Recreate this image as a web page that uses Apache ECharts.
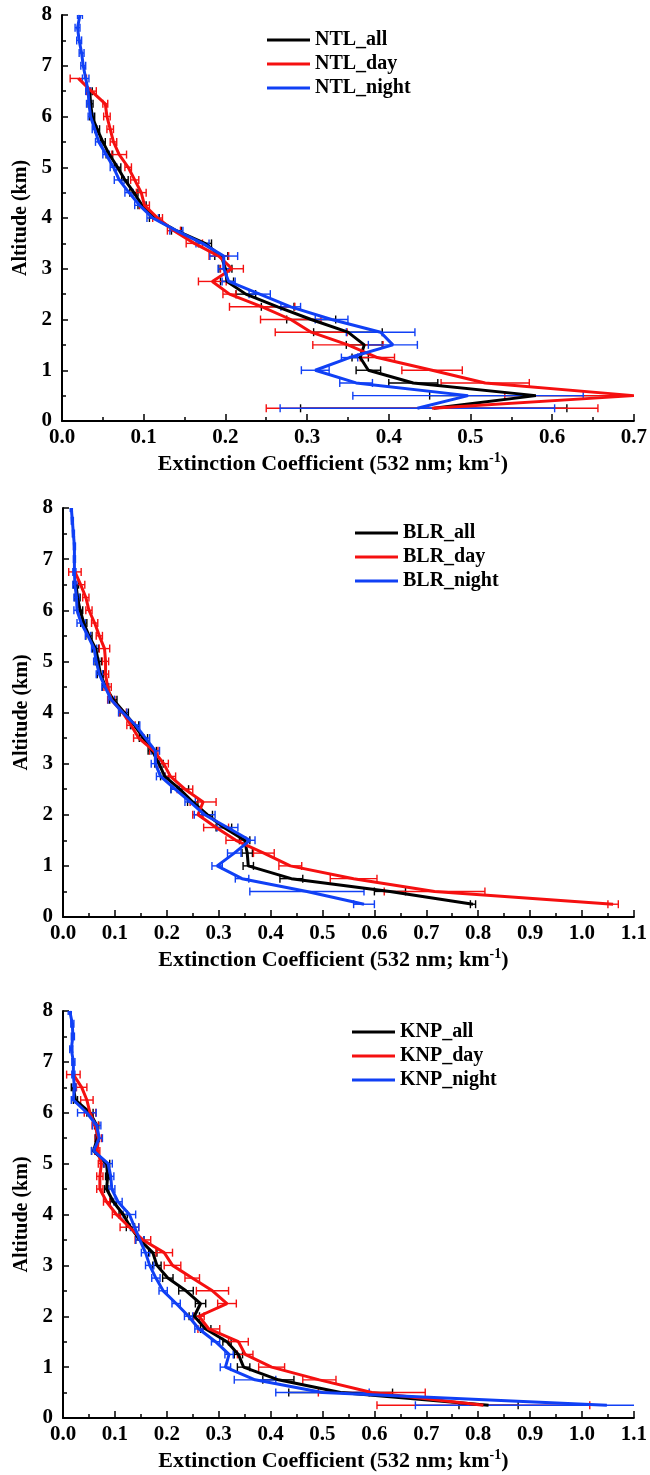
<!DOCTYPE html>
<html>
<head>
<meta charset="utf-8">
<script src="https://cdn.jsdelivr.net/npm/echarts@6/dist/echarts.min.js"></script>
<style>
  html, body { margin: 0; padding: 0; background: #fff; }
  #chart { width: 650px; height: 1475px; }
</style>
</head>
<body>
<div id="chart"></div>
<script>
// Altitude levels (km)
const ALT = [0.25,0.5,0.75,1.0,1.25,1.5,1.75,2.0,2.25,2.5,2.75,3.0,3.25,3.5,3.75,4.0,4.25,4.5,4.75,5.0,5.25,5.5,5.75,6.0,6.25,6.5,6.75,7.0,7.25,7.5,7.75,8.0];

// Panel 1: NTL
const NTL_all   = [0.455,0.58,0.43,0.375,0.365,0.37,0.35,0.305,0.264,0.225,0.202,0.2,0.195,0.175,0.14,0.113,0.098,0.088,0.077,0.068,0.058,0.05,0.043,0.037,0.035,0.034];
const NTL_all_e = [0.163,0.13,0.03,0.015,0.01,0.022,0.042,0.03,0.02,0.012,0.008,0.008,0.008,0.008,0.006,0.006,0.005,0.005,0.004,0.004,0.004,0.003,0.003,0.003,0.003,0.003];
const NTL_day   = [0.453,0.70,0.518,0.453,0.386,0.35,0.305,0.28,0.245,0.205,0.184,0.208,0.192,0.162,0.137,0.117,0.101,0.097,0.089,0.081,0.07,0.063,0.059,0.055,0.053,0.036,0.02];
const NTL_day_e = [0.203,0.158,0.054,0.037,0.021,0.043,0.044,0.037,0.04,0.008,0.017,0.014,0.012,0.01,0.008,0.006,0.006,0.006,0.005,0.004,0.009,0.004,0.004,0.004,0.003,0.006,0.01];
const NTL_night   = [0.435,0.497,0.36,0.31,0.352,0.405,0.39,0.33,0.28,0.242,0.204,0.198,0.198,0.172,0.14,0.111,0.095,0.082,0.07,0.063,0.054,0.045,0.04,0.035,0.033,0.032,0.029,0.026,0.024,0.021,0.019,0.022];
const NTL_night_e = [0.168,0.141,0.02,0.017,0.01,0.03,0.042,0.02,0.012,0.013,0.008,0.007,0.017,0.008,0.008,0.007,0.006,0.005,0.006,0.004,0.004,0.004,0.003,0.003,0.003,0.003,0.004,0.003,0.003,0.003,0.003,0.003];

// Panel 2: BLR
const BLR_all   = [0.79,0.63,0.44,0.357,0.355,0.35,0.31,0.278,0.25,0.225,0.196,0.185,0.172,0.155,0.138,0.118,0.097,0.082,0.072,0.068,0.063,0.05,0.04,0.033,0.028,0.025];
const BLR_all_e = [0.005,0.03,0.022,0.01,0.01,0.01,0.015,0.01,0.01,0.017,0.008,0.008,0.008,0.008,0.008,0.008,0.007,0.006,0.006,0.006,0.006,0.006,0.006,0.005,0.005,0.005];
const BLR_day   = [1.06,0.716,0.56,0.438,0.387,0.333,0.295,0.26,0.27,0.235,0.207,0.194,0.175,0.146,0.131,0.115,0.093,0.086,0.082,0.082,0.08,0.07,0.061,0.05,0.044,0.034,0.023];
const BLR_day_e = [0.01,0.097,0.045,0.022,0.02,0.019,0.024,0.01,0.025,0.015,0.01,0.009,0.008,0.01,0.008,0.007,0.007,0.007,0.006,0.006,0.01,0.006,0.006,0.006,0.006,0.008,0.012];
const BLR_night   = [0.58,0.47,0.345,0.297,0.33,0.36,0.317,0.273,0.245,0.216,0.188,0.178,0.178,0.159,0.14,0.115,0.093,0.081,0.07,0.064,0.06,0.048,0.035,0.027,0.026,0.023,0.022,0.022,0.022,0.02,0.018,0.016];
const BLR_night_e = [0.02,0.11,0.013,0.01,0.013,0.01,0.02,0.02,0.01,0.008,0.008,0.008,0.008,0.008,0.008,0.008,0.006,0.006,0.006,0.005,0.005,0.005,0.008,0.006,0.005,0.004,0.003,0.002,0.002,0.002,0.002,0.002];

// Panel 3: KNP
const KNP_all   = [0.82,0.535,0.415,0.348,0.338,0.316,0.275,0.253,0.265,0.237,0.202,0.181,0.173,0.148,0.13,0.116,0.097,0.084,0.086,0.084,0.059,0.066,0.065,0.052,0.024,0.02];
const KNP_all_e = [0.057,0.1,0.03,0.012,0.008,0.008,0.01,0.01,0.01,0.014,0.01,0.008,0.008,0.008,0.008,0.008,0.006,0.004,0.004,0.006,0.004,0.004,0.004,0.006,0.004,0.004];
const KNP_day   = [0.81,0.595,0.494,0.402,0.351,0.338,0.281,0.262,0.316,0.288,0.249,0.211,0.195,0.154,0.128,0.103,0.084,0.071,0.071,0.074,0.066,0.068,0.062,0.052,0.046,0.036,0.02];
const KNP_day_e = [0.205,0.103,0.032,0.025,0.015,0.019,0.021,0.01,0.018,0.031,0.014,0.016,0.016,0.015,0.018,0.008,0.006,0.006,0.006,0.006,0.005,0.006,0.006,0.011,0.012,0.01,0.013];
const KNP_night   = [1.048,0.50,0.37,0.313,0.32,0.294,0.262,0.242,0.218,0.193,0.179,0.167,0.159,0.148,0.138,0.128,0.106,0.094,0.092,0.087,0.059,0.07,0.065,0.046,0.02,0.022,0.02,0.02,0.016,0.019,0.018,0.013];
const KNP_night_e = [0.369,0.09,0.04,0.01,0.008,0.008,0.008,0.008,0.008,0.008,0.008,0.008,0.008,0.008,0.008,0.012,0.008,0.006,0.006,0.008,0.004,0.006,0.008,0.018,0.004,0.003,0.003,0.003,0.003,0.003,0.003,0.003];

const X_TICKS_1 = ['0.0','0.1','0.2','0.3','0.4','0.5','0.6','0.7'];
const X_TICKS_2 = ['0.0','0.1','0.2','0.3','0.4','0.5','0.6','0.7','0.8','0.9','1.0','1.1'];
const Y_TICKS = ['0','1','2','3','4','5','6','7','8'];

const PANELS = [
  { site: 'NTL', all: NTL_all, allE: NTL_all_e, day: NTL_day, dayE: NTL_day_e, night: NTL_night, nightE: NTL_night_e, xmax: 0.7,
    grid: { left: 62, top: 15, width: 576, height: 406 }, legend: { left: 267, top: 30 } },
  { site: 'BLR', all: BLR_all, allE: BLR_all_e, day: BLR_day, dayE: BLR_day_e, night: BLR_night, nightE: BLR_night_e, xmax: 1.1,
    grid: { left: 63, top: 508, width: 579, height: 409 }, legend: { left: 355, top: 523 } },
  { site: 'KNP', all: KNP_all, allE: KNP_all_e, day: KNP_day, dayE: KNP_day_e, night: KNP_night, nightE: KNP_night_e, xmax: 1.1,
    grid: { left: 63, top: 1011, width: 576, height: 407 }, legend: { left: 352, top: 1022 } }
];

const FONT = "'Liberation Serif', 'DejaVu Serif', serif";
const COLORS = { all: '#000000', day: '#f51010', night: '#1040f5' };

function lineData(vals) {
  const out = [];
  vals.forEach((v, i) => { if (v != null) out.push([v, ALT[i]]); });
  return out;
}
function errData(vals, errs) {
  const out = [];
  vals.forEach((v, i) => { if (v != null) out.push([v - errs[i], v + errs[i], ALT[i]]); });
  return out;
}
function errSeries(name, idx, vals, errs, color) {
  return {
    type: 'custom', name: name, xAxisIndex: idx, yAxisIndex: idx, clip: true,
    data: errData(vals, errs),
    encode: { x: [0, 1], y: 2 },
    renderItem: function (params, api) {
      const lo = api.coord([api.value(0), api.value(2)]);
      const hi = api.coord([api.value(1), api.value(2)]);
      const h = 4;
      const st = { stroke: color, lineWidth: 1.4 };
      return { type: 'group', children: [
        { type: 'line', shape: { x1: lo[0], y1: lo[1], x2: hi[0], y2: hi[1] }, style: st },
        { type: 'line', shape: { x1: lo[0], y1: lo[1] - h, x2: lo[0], y2: lo[1] + h }, style: st },
        { type: 'line', shape: { x1: hi[0], y1: hi[1] - h, x2: hi[0], y2: hi[1] + h }, style: st }
      ]};
    },
    silent: true, z: 2
  };
}
function lineSeries(name, idx, vals, color) {
  return {
    type: 'line', name: name, xAxisIndex: idx, yAxisIndex: idx,
    data: lineData(vals), showSymbol: false, symbol: 'none',
    lineStyle: { color: color, width: 3 }, itemStyle: { color: color },
    z: 3
  };
}

const grids = [], xAxes = [], yAxes = [], series = [], legends = [];
PANELS.forEach((p, idx) => {
  grids.push(Object.assign({ containLabel: false }, p.grid));
  const xl = p.xmax > 1 ? X_TICKS_2 : X_TICKS_1;
  xAxes.push({
    type: 'value', gridIndex: idx, min: 0, max: p.xmax, interval: 0.1,
    axisLine: { show: true, lineStyle: { color: '#000', width: 2 } },
    axisTick: { show: true, inside: true, length: 7, lineStyle: { color: '#000', width: 1.5 } },
    minorTick: { show: true, splitNumber: 2, length: 4, lineStyle: { color: '#000', width: 1.5 } },
    splitLine: { show: false },
    axisLabel: { margin: 6, color: '#000', fontFamily: FONT, fontWeight: 'bold', fontSize: 21,
      formatter: function (v) { const k = Math.round(v * 10); return xl[k] !== undefined ? xl[k] : ''; } },
    name: 'Extinction Coefficient (532 nm; km{sup|-1})',
    nameLocation: 'middle', nameGap: 30,
    nameTextStyle: { color: '#000', fontFamily: FONT, fontWeight: 'bold', fontSize: 22, padding: [0, 30, 0, 0],
      rich: { sup: { fontFamily: FONT, fontWeight: 'bold', fontSize: 14, color: '#000', padding: [0, 0, 12, 0] } } }
  });
  yAxes.push({
    type: 'value', gridIndex: idx, min: 0, max: 8, interval: 1,
    axisLine: { show: true, lineStyle: { color: '#000', width: 2 } },
    axisTick: { show: true, inside: true, length: 6, lineStyle: { color: '#000', width: 1.5 } },
    minorTick: { show: true, splitNumber: 2, length: 4, lineStyle: { color: '#000', width: 1.5 } },
    splitLine: { show: false },
    axisLabel: { margin: 10, color: '#000', fontFamily: FONT, fontWeight: 'bold', fontSize: 21,
      formatter: function (v) { const k = Math.round(v); return Y_TICKS[k] !== undefined ? Y_TICKS[k] : ''; } },
    name: 'Altitude (km)', nameLocation: 'middle', nameGap: 28, nameRotate: 90,
    nameTextStyle: { color: '#000', fontFamily: FONT, fontWeight: 'bold', fontSize: 20 }
  });
  const nAll = p.site + '_all', nDay = p.site + '_day', nNight = p.site + '_night';
  series.push(errSeries(nAll + '_err', idx, p.all, p.allE, COLORS.all));
  series.push(lineSeries(nAll, idx, p.all, COLORS.all));
  series.push(errSeries(nDay + '_err', idx, p.day, p.dayE, COLORS.day));
  series.push(lineSeries(nDay, idx, p.day, COLORS.day));
  series.push(errSeries(nNight + '_err', idx, p.night, p.nightE, COLORS.night));
  series.push(lineSeries(nNight, idx, p.night, COLORS.night));
  legends.push({
    data: [nAll, nDay, nNight], orient: 'vertical', left: p.legend.left, top: p.legend.top,
    padding: 0, itemGap: 4, itemWidth: 43, itemHeight: 3, icon: 'rect',
    selectedMode: false,
    textStyle: { color: '#000', fontFamily: FONT, fontWeight: 'bold', fontSize: 20, lineHeight: 20 }
  });
});

const chart = echarts.init(document.getElementById('chart'), null, { renderer: 'canvas' });
chart.setOption({
  backgroundColor: '#ffffff',
  animation: false,
  grid: grids, xAxis: xAxes, yAxis: yAxes, legend: legends, series: series
});
</script>
</body>
</html>
